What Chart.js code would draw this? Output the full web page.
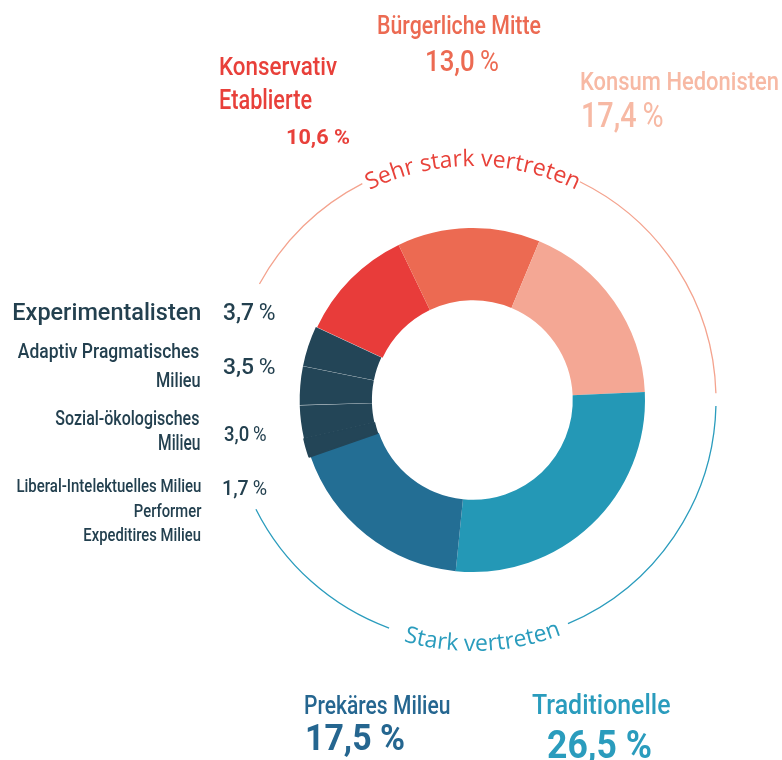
<!DOCTYPE html>
<html>
<head>
<meta charset="utf-8">
<script src="https://cdn.jsdelivr.net/npm/chart.js@4.4.1/dist/chart.umd.min.js"></script>
<style>
html,body{margin:0;padding:0;background:#fff;}
#wrap{position:relative;width:782px;height:760px;overflow:hidden;font-family:Roboto,'Liberation Sans',sans-serif;}
#c{position:absolute;left:0;top:0;}
#deco{position:absolute;left:0;top:0;}
.lb{position:absolute;white-space:nowrap;line-height:1;left:0;top:0;}
</style>
</head>
<body>
<div id="wrap">
  <canvas id="c" width="782" height="760"></canvas>
  <svg id="deco" width="782" height="760" xmlns="http://www.w3.org/2000/svg"></svg>
</div>
<script>
// ---------- data ----------
const categoryLines = [
  ['Konservativ', 'Etablierte'],
  ['Bürgerliche Mitte'],
  ['Konsum Hedonisten'],
  ['Traditionelle'],
  ['Prekäres Milieu'],
  ['Liberal-Intelektuelles Milieu', 'Performer', 'Expeditires Milieu'],
  ['Sozial-ökologisches', 'Milieu'],
  ['Adaptiv Pragmatisches', 'Milieu'],
  ['Experimentalisten']
];
const categories = categoryLines.map(l => l.join(' '));
const values = [10.6, 13.0, 17.4, 26.5, 17.5, 1.7, 3.0, 3.5, 3.7];
const sliceColors = ['#e83c3a', '#ec6a52', '#f4a794', '#2498b6', '#236e94', '#234557', '#234557', '#234557', '#234557'];
const groupLabels = ['Sehr stark vertreten', 'Stark vertreten'];

// ---------- chart ----------
const chart = new Chart(document.getElementById('c'), {
  type: 'doughnut',
  data: {
    labels: categories,
    datasets: [{
      data: values,
      backgroundColor: sliceColors,
      borderColor: sliceColors,
      borderWidth: [0, 0, 0, 0, 0, 1.6, 0, 0, 0],
      offset: [0, 0, 0, 0, 0, 3, 3, 3, 3],
      hoverOffset: 0
    }]
  },
  options: {
    responsive: false,
    animation: false,
    devicePixelRatio: 1,
    rotation: -65,
    cutout: '58%',
    radius: 172,
    events: [],
    layout: { padding: { left: 297, right: 133, top: 228, bottom: 188 } },
    plugins: { legend: { display: false }, tooltip: { enabled: false } }
  }
});

// ---------- decorative arcs + curved group labels ----------
(function () {
  const a0 = chart.getDatasetMeta(0).data[0];
  const cx = a0.x, cy = a0.y, R = a0.outerRadius;
  const ringR = R * 243 / 172;
  const P = (deg, r) => { const t = deg * Math.PI / 180; return [cx + r * Math.sin(t), cy - r * Math.cos(t)]; };
  const arcCW = (d1, d2, r) => {
    const [x1, y1] = P(d1, r), [x2, y2] = P(d2, r);
    return `M${x1.toFixed(2)} ${y1.toFixed(2)} A${r} ${r} 0 ${(d2 - d1) > 180 ? 1 : 0} 1 ${x2.toFixed(2)} ${y2.toFixed(2)}`;
  };
  const arcCCW = (d1, d2, r) => {
    const [x1, y1] = P(d1, r), [x2, y2] = P(d2, r);
    return `M${x1.toFixed(2)} ${y1.toFixed(2)} A${r} ${r} 0 ${(d1 - d2) > 180 ? 1 : 0} 0 ${x2.toFixed(2)} ${y2.toFixed(2)}`;
  };
  const salmon = '#f4a38e', teal = '#2a9cbd';
  const rTop = R * 234 / 172, rBot = R * 251 / 172;
  const svg = document.getElementById('deco');
  svg.innerHTML =
    `<defs><path id="pTop" d="${arcCW(-70, 70, rTop)}"/><path id="pBot" d="${arcCCW(247.7, 107.7, rBot)}"/></defs>` +
    `<path d="${arcCW(-61.5, -27.1, ringR)}" fill="none" stroke="${salmon}" stroke-width="1.3"/>` +
    `<path d="${arcCW(26.1, 88.4, ringR)}" fill="none" stroke="${salmon}" stroke-width="1.3"/>` +
    `<path d="${arcCW(91.4, 157, ringR)}" fill="none" stroke="${teal}" stroke-width="1.3"/>` +
    `<path d="${arcCW(200.2, 243.3, ringR)}" fill="none" stroke="${teal}" stroke-width="1.3"/>` +
    `<text font-family="'Open Sans', sans-serif" font-size="23" font-weight="500" fill="#e8423a"><textPath href="#pTop" startOffset="50%" text-anchor="middle">${groupLabels[0]}</textPath></text>` +
    `<text font-family="'Open Sans', sans-serif" font-size="23" font-weight="500" fill="${teal}"><textPath href="#pBot" startOffset="50%" text-anchor="middle">${groupLabels[1]}</textPath></text>`;
})();

// ---------- labels ----------
const fmt = v => v.toFixed(1).replace('.', ',');
const DARK = '#23404f';
const textLayout = [
  { cat: 1, line: 0, x: 377, a: 'l', cap: 15, base: 33.5, w: 164, col: '#ec6a52' },
  { val: 1, x: 425, a: 'l', cap: 49.5, base: 71, w: 74, col: '#ec6a52' },
  { cat: 0, line: 0, x: 218.5, a: 'l', cap: 57, base: 75, w: 118, col: '#e8403a' },
  { cat: 0, line: 1, x: 218.5, a: 'l', cap: 89.5, base: 108.5, w: 93, col: '#e8403a' },
  { val: 0, x: 285.5, a: 'l', cap: 129.5, base: 143.5, w: 64, col: '#e8403a', bold: true },
  { cat: 2, line: 0, x: 579.5, a: 'l', cap: 72, base: 90, w: 199, col: '#f7b9a4' },
  { val: 2, x: 580.5, a: 'l', cap: 102, base: 126.5, w: 82.5, col: '#f7b9a4' },
  { cat: 8, line: 0, x: 201, a: 'r', cap: 302, base: 319.5, w: 189, col: DARK },
  { val: 8, x: 222.5, a: 'l', cap: 302.5, base: 319.5, w: 52.5, col: DARK },
  { cat: 7, line: 0, x: 199, a: 'r', cap: 343.5, base: 357.5, w: 181.5, col: DARK },
  { cat: 7, line: 1, x: 201, a: 'r', cap: 371.5, base: 386.5, w: 44.5, col: DARK },
  { val: 7, x: 222.5, a: 'l', cap: 357.5, base: 373.5, w: 52.5, col: DARK },
  { cat: 6, line: 0, x: 199, a: 'r', cap: 410, base: 424.5, w: 144, col: DARK },
  { cat: 6, line: 1, x: 201, a: 'r', cap: 434.5, base: 450, w: 42.5, col: DARK },
  { val: 6, x: 224, a: 'l', cap: 427, base: 441, w: 42.5, col: DARK },
  { cat: 5, line: 0, x: 201, a: 'r', cap: 478.5, base: 492, w: 185, col: DARK },
  { cat: 5, line: 1, x: 201, a: 'r', cap: 503.5, base: 516.5, w: 67.5, col: DARK },
  { cat: 5, line: 2, x: 201, a: 'r', cap: 527, base: 540.5, w: 117.5, col: DARK },
  { val: 5, x: 221.5, a: 'l', cap: 480, base: 495, w: 45, col: DARK },
  { cat: 4, line: 0, x: 303.5, a: 'l', cap: 695, base: 713.5, w: 146.5, col: '#256690' },
  { val: 4, x: 305, a: 'l', cap: 723.5, base: 750, w: 100, col: '#256690', bold: true },
  { cat: 3, line: 0, x: 531.5, a: 'l', cap: 695, base: 714, w: 138.5, col: '#2a9cbd' },
  { val: 3, x: 546.5, a: 'l', cap: 730, base: 758, w: 105, col: '#2a9cbd', bold: true }
];

const wrap = document.getElementById('wrap');
function placeLabel(spec) {
  const d = document.createElement('div');
  d.className = 'lb';
  const s = (spec.base - spec.cap) / 0.711;
  d.style.fontSize = s.toFixed(2) + 'px';
  d.style.color = spec.col;
  d.style.fontWeight = spec.bold ? '700' : '500';
  if (spec.val !== undefined) {
    const n = fmt(values[spec.val]);
    d.innerHTML = spec.bold ? (n + ' %') : (n + '<span style="font-weight:400">\u2009%</span>');
  } else {
    d.textContent = categoryLines[spec.cat][spec.line];
  }
  const bm = document.createElement('span');
  bm.style.cssText = 'display:inline-block;width:0;height:0;vertical-align:baseline;';
  d.appendChild(bm);
  wrap.appendChild(d);
  const mw = d.getBoundingClientRect().width;
  const bTop = bm.offsetTop;
  const sc = spec.w / mw;
  d.style.top = (spec.base - bTop).toFixed(2) + 'px';
  if (spec.a === 'l') {
    d.style.left = spec.x + 'px';
    d.style.transformOrigin = '0 0';
  } else {
    d.style.left = (spec.x - mw).toFixed(2) + 'px';
    d.style.transformOrigin = '100% 0';
  }
  d.style.transform = 'scaleX(' + sc.toFixed(4) + ')';
}
textLayout.forEach(placeLabel);
</script>
</body>
</html>
